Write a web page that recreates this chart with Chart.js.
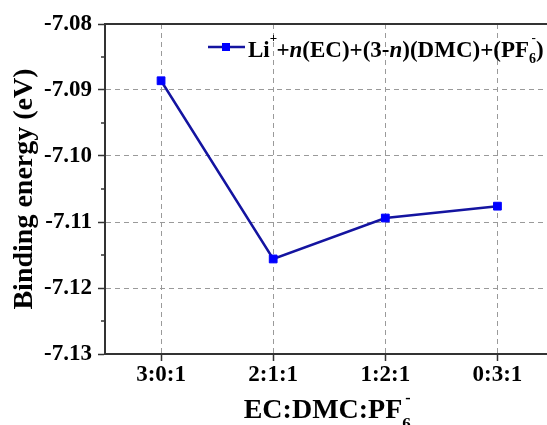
<!DOCTYPE html>
<html>
<head>
<meta charset="utf-8">
<script src="https://cdn.jsdelivr.net/npm/chart.js@4.4.1/dist/chart.umd.min.js"></script>
<style>
  html, body { margin: 0; padding: 0; background: #fff; overflow: hidden; }
  #wrap { width: 560px; height: 425px; }
</style>
</head>
<body>
<div id="wrap"><canvas id="chart" width="560" height="425"></canvas></div>
<script>
// EC:DMC:PF6- ratios and binding energies (eV)
const ratios = ['3:0:1', '2:1:1', '1:2:1', '0:3:1'];
const bindingEnergy = [-7.0886, -7.1156, -7.1094, -7.1076];
const yTicks = [-7.13, -7.12, -7.11, -7.10, -7.09, -7.08];

const FONT = '"Liberation Serif", "Times New Roman", serif';
const AXIS_COLOR = '#333';

// legend text pieces: [text, kind]  kind: '' normal, 'i' italic, 'sup', 'subsup'
const legendParts = [
  ['Li', ''], ['+', 'sup'], ['+', ''], ['n', 'i'], ['(EC)+(3-', ''], ['n', 'i'],
  [')(DMC)+(PF', ''], [['6', '-'], 'subsup'], [')', '']
];
const xTitleParts = [['EC:DMC:PF', ''], [['6', '-'], 'subsup']];

function drawRich(ctx, parts, x, y, size, opts) {
  const o = Object.assign({ supSize: size * 0.55, subSize: size * 0.6, supRise: size * 0.55, subDrop: size * 0.28 }, opts || {});
  ctx.save();
  ctx.fillStyle = '#000';
  ctx.textBaseline = 'alphabetic';
  ctx.textAlign = 'left';
  let cx = x;
  parts.forEach(([text, kind]) => {
    if (kind === 'subsup') {
      ctx.font = 'bold ' + o.subSize + 'px ' + FONT;
      const w1 = ctx.measureText(text[0]).width;
      ctx.fillText(text[0], cx, y + o.subDrop);
      ctx.font = 'bold ' + o.supSize + 'px ' + FONT;
      const w2 = ctx.measureText(text[1]).width;
      ctx.fillText(text[1], cx + w1 * 0.35, y - o.supRise);
      cx += Math.max(w1, w2 + w1 * 0.35);
    } else if (kind === 'sup') {
      ctx.font = 'bold ' + o.supSize + 'px ' + FONT;
      ctx.fillText(text, cx, y - o.supRise);
      cx += ctx.measureText(text).width * 0.9;
    } else {
      ctx.font = (kind === 'i' ? 'italic bold ' : 'bold ') + size + 'px ' + FONT;
      ctx.fillText(text, cx, y);
      cx += ctx.measureText(text).width;
    }
  });
  ctx.restore();
  return cx - x;
}

function richWidth(ctx, parts, size, opts) {
  ctx.save();
  ctx.globalAlpha = 0;
  const w = drawRich(ctx, parts, 0, 0, size, opts);
  ctx.restore();
  return w;
}

const framePlugin = {
  id: 'frame',
  afterDraw(chart) {
    const { ctx, chartArea: a, scales } = chart;
    const y = scales.y;
    ctx.save();
    // top edge of the frame
    ctx.strokeStyle = AXIS_COLOR;
    ctx.lineWidth = 2;
    ctx.beginPath();
    ctx.moveTo(a.left, a.top);
    ctx.lineTo(a.right + 10, a.top);
    ctx.stroke();
    // minor ticks on the y axis
    ctx.lineWidth = 1.5;
    for (let i = 0; i < yTicks.length - 1; i++) {
      const py = y.getPixelForValue((yTicks[i] + yTicks[i + 1]) / 2);
      ctx.beginPath();
      ctx.moveTo(a.left - 4, py);
      ctx.lineTo(a.left, py);
      ctx.stroke();
    }
    ctx.restore();

    // legend
    const ds = chart.data.datasets[0];
    const ly = a.top + 23;
    const lx = a.left + 103;
    ctx.save();
    ctx.strokeStyle = ds.borderColor;
    ctx.lineWidth = ds.borderWidth;
    ctx.beginPath();
    ctx.moveTo(lx, ly);
    ctx.lineTo(lx + 37, ly);
    ctx.stroke();
    ctx.fillStyle = ds.pointBackgroundColor;
    ctx.fillRect(lx + 18 - 4, ly - 4, 8, 8);
    ctx.restore();
    drawRich(ctx, legendParts, lx + 40, ly + 10, 23, { supSize: 13, subSize: 14, supRise: 15, subDrop: 6 });

    // x axis title
    const tOpts = { supSize: 16, subSize: 17, supRise: 15, subDrop: 11 };
    const tw = richWidth(ctx, xTitleParts, 28, tOpts);
    drawRich(ctx, xTitleParts, (a.left + a.right) / 2 - tw / 2 - 2, 418, 28, tOpts);
  }
};

new Chart(document.getElementById('chart'), {
  type: 'line',
  data: {
    labels: ratios,
    datasets: [{
      label: 'binding energy',
      data: bindingEnergy,
      borderColor: '#1414a0',
      borderWidth: 2.5,
      pointStyle: 'rect',
      pointRadius: 5.5,
      pointBackgroundColor: '#0000ff',
      pointBorderColor: '#0000ff',
      pointBorderWidth: 1,
      tension: 0,
      clip: false
    }]
  },
  options: {
    responsive: false,
    animation: false,
    devicePixelRatio: 1,
    layout: { padding: { top: 24, right: 5, left: 0, bottom: 0 } },
    plugins: {
      legend: { display: false },
      tooltip: { enabled: false }
    },
    scales: {
      x: {
        type: 'category',
        offset: true,
        afterFit(scale) { scale.height = 71; },
        grid: {
          offset: false,
          color: '#9a9a9a',
          lineWidth: 1,
          tickColor: AXIS_COLOR,
          tickWidth: 1.5,
          tickLength: 7
        },
        border: { display: true, color: AXIS_COLOR, width: 2, dash: [5, 4] },
        ticks: {
          color: '#000',
          font: { family: FONT, size: 23, weight: 'bold' },
          padding: 0,
          maxRotation: 0
        }
      },
      y: {
        min: -7.13,
        max: -7.08,
        afterFit(scale) { scale.width = 105; },
        afterBuildTicks(scale) { scale.ticks = yTicks.map(v => ({ value: v })); },
        grid: {
          color: ctx => (ctx.tick && (ctx.tick.value <= -7.13 || ctx.tick.value >= -7.08)) ? 'rgba(0,0,0,0)' : '#9a9a9a',
          lineWidth: 1,
          tickColor: AXIS_COLOR,
          tickWidth: 1.5,
          tickLength: 7
        },
        border: { display: true, color: AXIS_COLOR, width: 2, dash: [5, 4] },
        ticks: {
          color: '#000',
          font: { family: FONT, size: 23, weight: 'bold' },
          padding: 6,
          callback: v => v.toFixed(2)
        },
        title: {
          display: true,
          text: 'Binding energy (eV)',
          color: '#000',
          font: { family: FONT, size: 28, weight: 'bold' },
          padding: { top: 8, bottom: 0 }
        }
      }
    }
  },
  plugins: [framePlugin]
});
</script>
</body>
</html>
